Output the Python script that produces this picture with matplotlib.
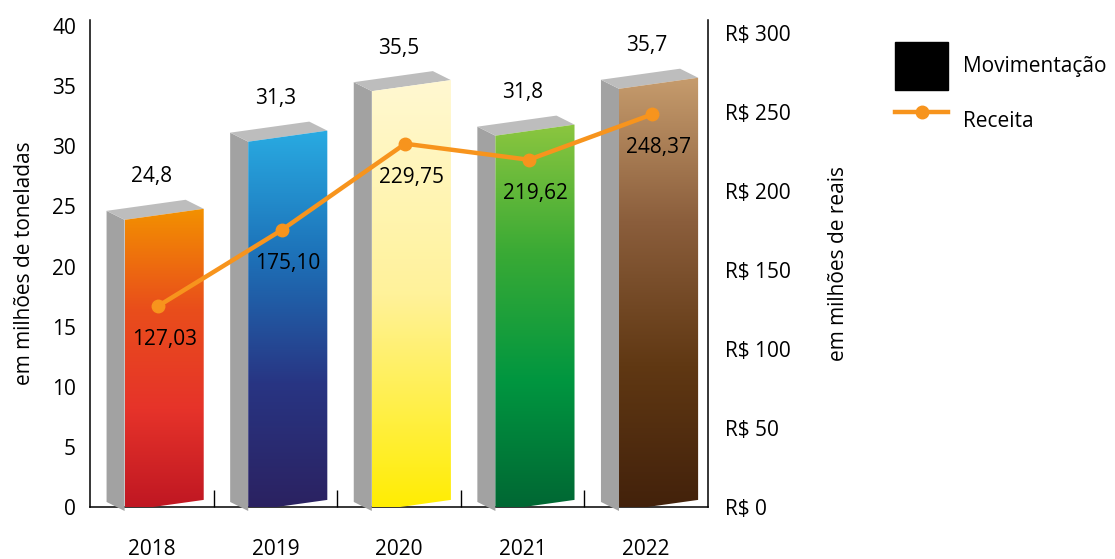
import numpy as np
import matplotlib
matplotlib.use("Agg")
import matplotlib.pyplot as plt
from matplotlib.colors import LinearSegmentedColormap
from matplotlib.patches import Polygon, Patch
from matplotlib.lines import Line2D

plt.rcParams["font.family"] = ["Open Sans", "DejaVu Sans"]

# ── dados ────────────────────────────────────────────────────────────────
anos = ["2018", "2019", "2020", "2021", "2022"]
movimentacao = [24.8, 31.3, 35.5, 31.8, 35.7]          # milhões de toneladas
receita = [127.03, 175.10, 229.75, 219.62, 248.37]     # milhões de reais

# gradiente de cada barra (topo -> base)
gradientes = [
    ["#F39200", "#E94E1B", "#E6332A", "#BE1622"],
    ["#29ABE2", "#1D71B8", "#283583", "#2B2160"],
    ["#FFF8D2", "#FFF29A", "#FFED00"],
    ["#8CC63F", "#3AAA35", "#009640", "#006633"],
    ["#C69C6D", "#8B5E3C", "#603813", "#42210B"],
]

LARANJA = "#F7941D"
FS = 15

fig = plt.figure(figsize=(11.15, 5.59), dpi=100)
ax = fig.add_axes([90 / 1115, 52 / 559, 618 / 1115, 487 / 559])
ax.set_xlim(0, 5)
ax.set_ylim(0, 40.5)

# geometria da "caixa" 3D (unidades de dados)
x_off, w = 0.28, 0.64        # face frontal
dx, dy = 0.146, 0.75         # profundidade (para trás/esquerda, para cima)
incl = 0.92                  # inclinação da face frontal
base = -0.33

grad = np.linspace(0, 1, 256).reshape(-1, 1)
for i, (v, cores) in enumerate(zip(movimentacao, gradientes)):
    x0 = i + x_off
    x1 = x0 + w
    frente = [(x0, base), (x1, base + incl), (x1, v), (x0, v - incl)]
    lado = [(x0 - dx, base + dy), (x0, base), (x0, v - incl), (x0 - dx, v - incl + dy)]
    topo = [(x0 - dx, v - incl + dy), (x0, v - incl), (x1, v), (x1 - dx, v + dy)]
    ax.add_patch(Polygon(lado, closed=True, fc="#A2A2A2", ec="none",
                         zorder=3, clip_on=False))
    ax.add_patch(Polygon(topo, closed=True, fc="#BDBDBD", ec="none",
                         zorder=3, clip_on=False))
    pf = Polygon(frente, closed=True, fc="none", ec="none", zorder=3, clip_on=False)
    ax.add_patch(pf)
    cmap = LinearSegmentedColormap.from_list(f"g{i}", cores)
    im = ax.imshow(grad, cmap=cmap, aspect="auto", extent=(x0, x1, base, v + 0.1),
                   origin="upper", zorder=3.5, interpolation="bilinear")
    im.set_clip_path(pf)
    im.set_clip_box(None)
    ax.annotate(f"{v:.1f}".replace(".", ","), (i + 0.5, v), xytext=(0, 23),
                textcoords="offset points", ha="center", va="center",
                fontsize=FS, zorder=5)

ax.set_xlim(0, 5)
ax.set_ylim(0, 40.5)
ax.set_xticks(np.arange(5) + 0.5)
ax.set_xticklabels(anos, fontsize=FS)
ax.set_xticks(np.arange(1, 5), minor=True)
ax.tick_params(axis="x", which="major", length=0, pad=23)
ax.tick_params(axis="x", which="minor", direction="in", length=12, width=1)
ax.set_yticks(np.arange(0, 41, 5))
ax.tick_params(axis="y", length=0, pad=10, labelsize=FS)
ax.set_ylabel("em milhões de toneladas", fontsize=FS, labelpad=12)
ax.spines["top"].set_visible(False)
ax.spines["right"].set_visible(False)
for s in ("left", "bottom"):
    ax.spines[s].set_linewidth(1.1)

# ── eixo da receita ──────────────────────────────────────────────────────
ax2 = ax.twinx()
ax2.set_ylim(0, 308)
ax2.set_yticks(np.arange(0, 301, 50))
ax2.set_yticklabels([f"R$ {t}" for t in range(0, 301, 50)])
ax2.tick_params(axis="y", length=0, pad=12, labelsize=FS)
ax2.set_ylabel("em milhões de reais", fontsize=FS, labelpad=27)
for s in ("top", "left", "bottom"):
    ax2.spines[s].set_visible(False)
ax2.spines["right"].set_linewidth(1.1)

xs = np.arange(5) + 0.55
ax2.plot(xs, receita, color=LARANJA, lw=3.2, marker="o", ms=9, zorder=4)
for i, r in enumerate(receita):
    ax2.annotate(f"{r:.2f}".replace(".", ","), (i + 0.6, r), xytext=(0, -24),
                 textcoords="offset points", ha="center", va="center",
                 fontsize=FS, zorder=5)

# ── legenda ──────────────────────────────────────────────────────────────
handles = [Patch(fc="black", ec="black"),
           Line2D([], [], color=LARANJA, lw=3.2, marker="o", ms=9)]
fig.legend(handles, ["Movimentação", "Receita"], loc="upper left",
           bbox_to_anchor=(895 / 1115, 1 - 42 / 559), frameon=False,
           fontsize=FS, handlelength=2.55, handleheight=3.2, labelspacing=0.3,
           handletextpad=0.7, borderpad=0, borderaxespad=0, numpoints=1)

fig.savefig("out.png", dpi=100)
